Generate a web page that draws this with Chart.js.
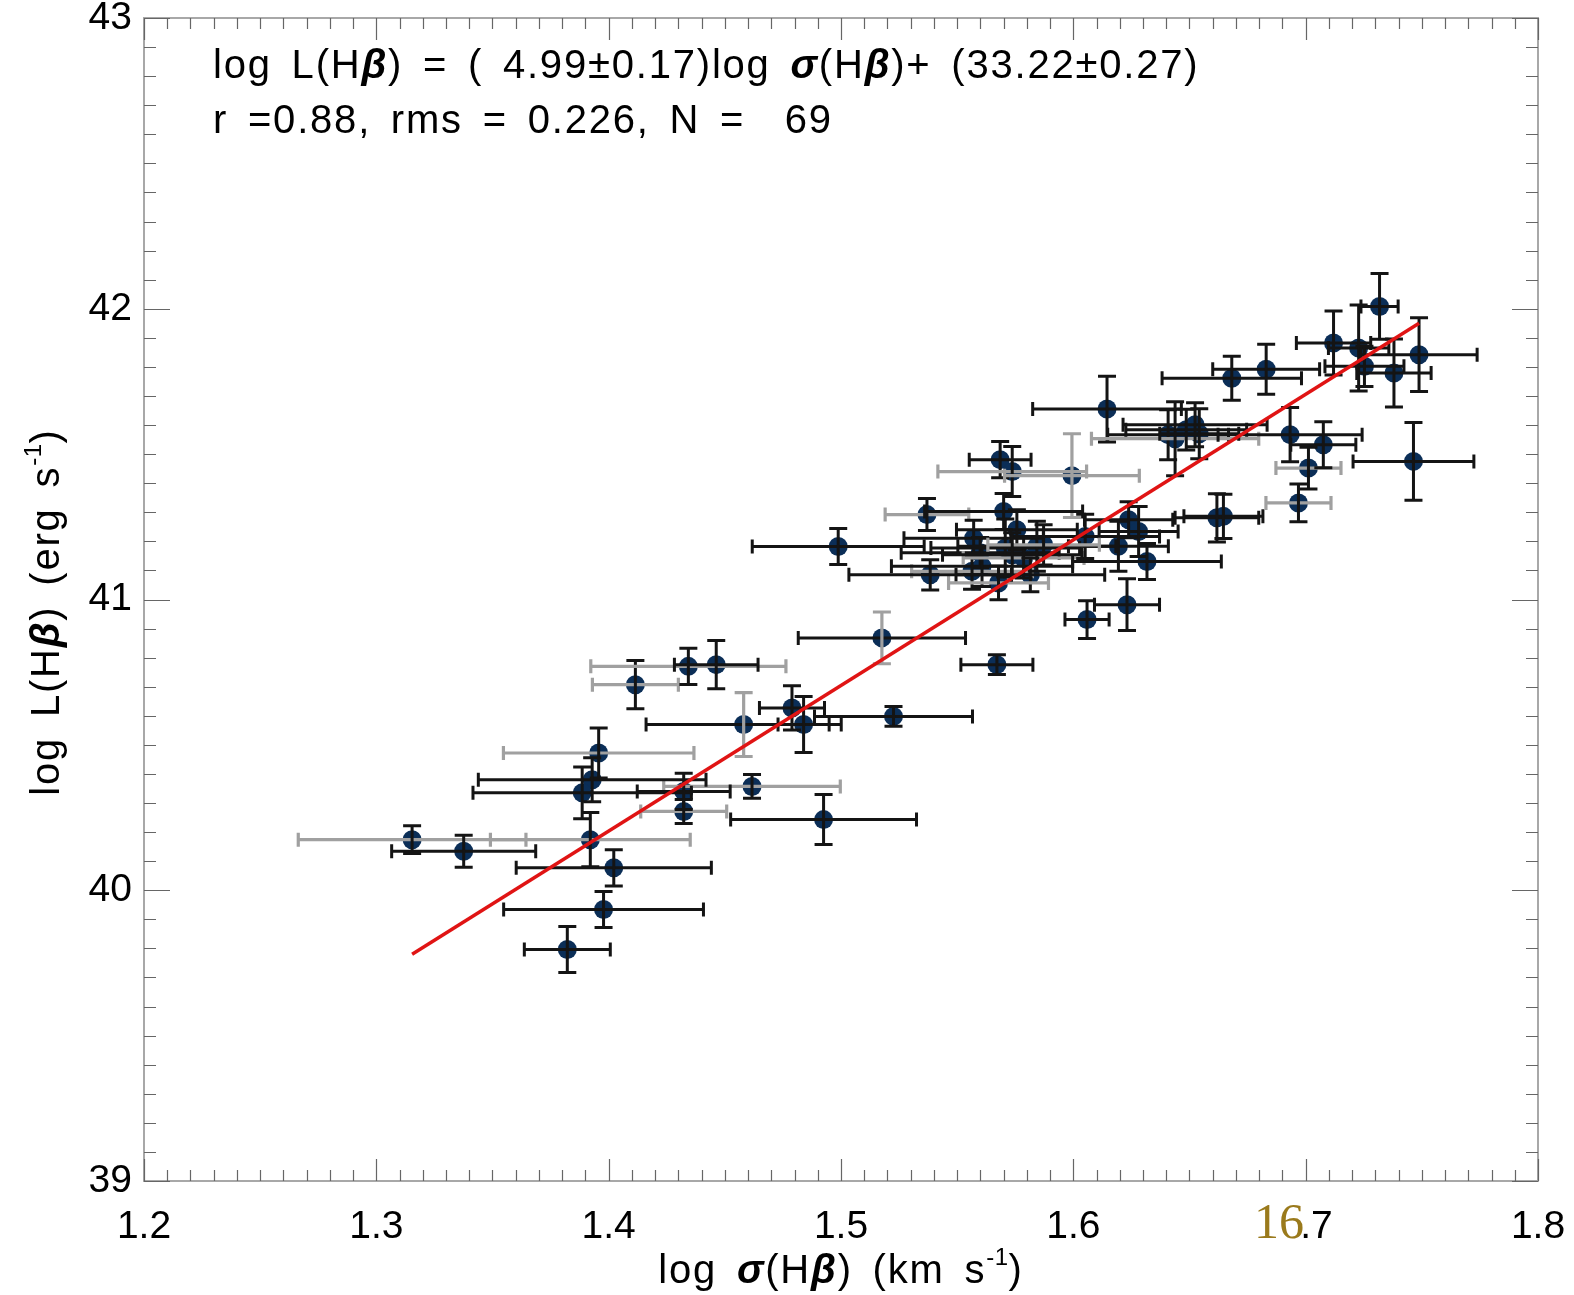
<!DOCTYPE html>
<html><head><meta charset="utf-8">
<script src="https://cdn.jsdelivr.net/npm/chart.js@4.4.0/dist/chart.umd.min.js"></script>
<style>html,body{margin:0;padding:0;background:#fff;overflow:hidden}#wrap{position:relative;width:1574px;height:1295px}</style>
</head><body><div id="wrap"><canvas id="c" width="1574" height="1295"></canvas></div>
<script>
// ---- data ----
const xVals = [1.3154,1.3376,1.4115,1.4343,1.4463,1.4581,1.4789,1.4839,1.5226,1.5176,1.4617,1.4925,1.4323,1.4323,1.3957,1.3929,1.3886,1.3921,1.4022,1.3978,1.3822,1.4988,
 1.5685,1.5737,1.5994,1.5370,1.5700,1.5757,1.5571,1.5599,1.5564,1.5607,1.5707,1.5786,1.5843,1.5815,1.5678,1.5384,1.6051,1.6194,1.6238,1.6281,1.6317,1.6231,1.6059,1.5671,1.5872,1.6618,1.6646,
 1.6145,1.6408,1.6438,1.6524,1.6542,1.6933,1.7012,1.7076,1.6969,1.7464,1.7318,1.7120,1.7228,1.7253,1.7380,1.7488,1.6830,1.6682,1.5737,1.6486];
const yVals = [40.174,40.134,40.707,40.770,40.776,40.570,40.627,40.570,40.598,40.868,40.357,40.243,40.271,40.340,40.472,40.380,40.335,40.174,40.077,39.934,39.796,41.182,
 41.481,41.440,41.426,41.292,41.303,41.240,41.211,41.161,41.097,41.114,41.177,41.143,41.183,41.085,41.057,41.085,41.217,41.183,41.274,41.234,41.131,40.982,40.931,40.776,41.188,41.281,41.286,
 41.655,41.567,41.553,41.601,41.570,41.567,41.452,41.532,41.332,41.475,42.008,41.882,41.865,41.802,41.779,41.842,41.792,41.761,41.154,41.584];
const xErr = [0.049,0.031,0.0185,0.042,0.018,0.042,0.014,0.011,0.034,0.036,0.038,0.040,0.0185,0.020,0.041,0.049,0.047,0.043,0.042,0.043,0.0185,0.037,
 0.0133,0.032,0.029,0.018,0.034,0.026,0.030,0.034,0.026,0.039,0.032,0.026,0.034,0.032,0.0215,0.035,0.032,0.0215,0.019,0.017,0.032,0.014,0.0095,0.0155,0.024,0.018,0.017,
 0.032,0.026,0.036,0.031,0.017,0.031,0.014,0.014,0.014,0.026,0.008,0.016,0.013,0.017,0.016,0.025,0.023,0.030,0.030,0.026];
const yErr = [0.048,0.055,0.083,0.062,0.083,0.11,0.076,0.096,0.034,0.089,0.041,0.086,0.041,0.062,0.086,0.076,0.089,0.093,0.062,0.062,0.079,0.062,
 0.062,0.086,0.144,0.055,0.062,0.069,0.062,0.052,0.062,0.069,0.10,0.069,0.086,0.058,0.058,0.052,0.076,0.086,0.062,0.086,0.062,0.089,0.065,0.034,0.069,0.083,0.076,
 0.113,0.086,0.127,0.076,0.086,0.093,0.072,0.079,0.065,0.134,0.113,0.110,0.148,0.069,0.117,0.127,0.086,0.076,0.076,0.07];
// 1 = grey error bar, 0 = black
const xErrGrey = [1,0,1,1,0,0,0,0,0,0,1,0,1,0,1,0,0,1,0,0,0,0,
 0,1,1,1,0,0,0,0,1,0,0,1,0,0,1,0,0,0,0,0,0,0,0,0,1,0,0,
 0,0,1,0,0,0,1,0,1,0,0,0,0,0,0,0,0,0,0,0];
const yErrGrey = [0,0,0,0,0,1,0,0,0,1,0,0,0,0,0,0,0,0,0,0,0,0,
 0,0,1,0,0,0,0,0,0,0,0,0,0,0,0,0,0,0,0,0,0,0,0,0,0,0,0,
 0,0,0,0,0,0,0,0,0,0,0,0,0,0,0,0,0,0,0,0];
const fitX = [1.3154, 1.7488];
const fitY = [39.78, 41.95];
const xTickVals = [1.2,1.3,1.4,1.5,1.6,1.7,1.8];
const xTickLabels = ['1.2','1.3','1.4','1.5','1.6','1.7','1.8'];
const yTickVals = [39,40,41,42,43];
const yTickLabels = ['39','40','41','42','43'];

const FONT = '"Liberation Sans", Arial, sans-serif';
const FS = 40;
const CH_SP = 1.8, SP_SP = 8.7;

function drawRich(ctx, segs, x, y, size, align){
  const fontOf = s => (s.style ? s.style + ' ' : '') + (s.sup ? Math.round(size*0.6) : size) + 'px ' + FONT;
  const adv = (s, ch) => ctx.measureText(ch).width + (s.sup ? 0.5 : (ch === ' ' ? SP_SP : CH_SP));
  let w = 0;
  for (const s of segs){ ctx.font = fontOf(s); for (const ch of s.t) w += adv(s, ch); }
  let cx = align === 'center' ? x - w/2 : x;
  ctx.textBaseline = 'alphabetic'; ctx.textAlign = 'left';
  for (const s of segs){
    ctx.font = fontOf(s);
    for (const ch of s.t){
      ctx.fillText(ch, cx, s.sup ? y - size*0.45 : y);
      cx += adv(s, ch);
    }
  }
}

const framePlugin = {
  id: 'frame',
  beforeDatasetsDraw(chart){
    const {ctx, chartArea:a, scales:{x, y}} = chart;
    ctx.save();
    ctx.strokeStyle = '#a8a8a8'; ctx.lineWidth = 2;
    ctx.strokeRect(a.left, a.top, a.right - a.left, a.bottom - a.top);
    ctx.strokeStyle = '#666'; ctx.lineWidth = 1.2;
    ctx.beginPath();
    for (let i = 0; i <= 60; i++){
      const px = Math.round(x.getPixelForValue(1.2 + i/100)) + 0.5;
      const L = i % 10 === 0 ? 22 : 11;
      ctx.moveTo(px, a.bottom); ctx.lineTo(px, a.bottom - L);
      ctx.moveTo(px, a.top); ctx.lineTo(px, a.top + L);
    }
    for (let i = 0; i <= 40; i++){
      const py = Math.round(y.getPixelForValue(39 + i/10)) + 0.5;
      const L = i % 10 === 0 ? 26 : 12;
      ctx.moveTo(a.left, py); ctx.lineTo(a.left + L, py);
      ctx.moveTo(a.right, py); ctx.lineTo(a.right - L, py);
    }
    ctx.stroke();
    ctx.restore();
  }
};

const errPlugin = {
  id: 'err',
  afterDatasetDraw(chart, args){
    if (args.index !== 1) return;
    const {ctx, scales:{x, y}} = chart;
    ctx.save();
    ctx.lineCap = 'butt';
    for (let i = 0; i < xVals.length; i++){
      const px = x.getPixelForValue(xVals[i]);
      const py = y.getPixelForValue(yVals[i]);
      const x0 = x.getPixelForValue(xVals[i] - xErr[i]);
      const x1 = x.getPixelForValue(xVals[i] + xErr[i]);
      const y0 = y.getPixelForValue(yVals[i] - yErr[i]);
      const y1 = y.getPixelForValue(yVals[i] + yErr[i]);
      ctx.strokeStyle = xErrGrey[i] ? '#a0a0a0' : '#141414';
      ctx.lineWidth = xErrGrey[i] ? 3.2 : 3;
      ctx.beginPath();
      ctx.moveTo(x0, py); ctx.lineTo(x1, py);
      ctx.moveTo(x0, py - 7); ctx.lineTo(x0, py + 7);
      ctx.moveTo(x1, py - 7); ctx.lineTo(x1, py + 7);
      ctx.stroke();
      ctx.strokeStyle = yErrGrey[i] ? '#a0a0a0' : '#141414';
      ctx.lineWidth = yErrGrey[i] ? 3.2 : 3;
      ctx.beginPath();
      ctx.moveTo(px, y0); ctx.lineTo(px, y1);
      ctx.moveTo(px - 9, y0); ctx.lineTo(px + 9, y0);
      ctx.moveTo(px - 9, y1); ctx.lineTo(px + 9, y1);
      ctx.stroke();
    }
    ctx.restore();
  }
};

const textPlugin = {
  id: 'texts',
  afterDraw(chart){
    const ctx = chart.ctx;
    ctx.save();
    ctx.fillStyle = '#000';
    const BI = 'bold italic';
    drawRich(ctx, [
      {t:'log L(H'},{t:'β',style:BI},{t:') = ( 4.99±0.17)log '},{t:'σ',style:BI},{t:'(H'},{t:'β',style:BI},{t:')+ (33.22±0.27)'}
    ], 213, 78, FS, 'left');
    drawRich(ctx, [{t:'r =0.88, rms = 0.226, N =  69'}], 213, 133, FS, 'left');
    // x title
    drawRich(ctx, [{t:'log '},{t:'σ',style:BI},{t:'(H'},{t:'β',style:BI},{t:') (km s'},{t:'-1',sup:true},{t:')'}],
      (chart.chartArea.left + chart.chartArea.right)/2, 1283, FS, 'center');
    // y title
    ctx.save();
    ctx.translate(59, 612);
    ctx.rotate(-Math.PI/2);
    drawRich(ctx, [{t:'log L(H'},{t:'β',style:BI},{t:') (erg s'},{t:'-1',sup:true},{t:')'}], 0, 0, FS, 'center');
    ctx.restore();
    // page number overlay
    ctx.fillStyle = '#fff';
    ctx.fillRect(1279, 1203, 21, 38);
    ctx.fillStyle = '#9a7a1c';
    ctx.font = '50px "Liberation Serif", "DejaVu Serif", serif';
    ctx.textAlign = 'left'; ctx.textBaseline = 'alphabetic';
    ctx.fillText('16', 1254, 1238);
    ctx.restore();
  }
};

new Chart(document.getElementById('c'), {
  type: 'scatter',
  data: {
    datasets: [
      { type:'line', data: fitX.map((v,i)=>({x:v, y:fitY[i]})), borderColor:'#e01414', borderWidth:3.5,
        pointRadius:0, fill:false, order:0, tension:0 },
      { type:'scatter', data: xVals.map((v,i)=>({x:v, y:yVals[i]})), pointRadius:9.5, pointHoverRadius:9.5,
        pointBackgroundColor:'#0b2e57', pointBorderWidth:0, order:1 }
    ]
  },
  options: {
    responsive:false, animation:false, devicePixelRatio:1,
    layout:{padding:{top:18, right:36, left:0, bottom:0}},
    plugins:{legend:{display:false}, tooltip:{enabled:false}},
    scales:{
      x:{type:'linear', min:1.2, max:1.8,
        afterBuildTicks:s=>{s.ticks = xTickVals.map(v=>({value:v}));},
        ticks:{font:{family:FONT,size:39}, color:'#000', padding:23, maxRotation:0, autoSkip:false,
          callback:(v,i)=>xTickLabels[i]},
        grid:{display:false, drawTicks:false}, border:{display:false},
        afterFit:s=>{s.height = 114; s.paddingLeft = 0; s.paddingRight = 0;}},
      y:{type:'linear', min:39, max:43,
        afterBuildTicks:s=>{s.ticks = yTickVals.map(v=>({value:v}));},
        ticks:{font:{family:FONT,size:39}, color:'#000', padding:12, autoSkip:false,
          callback:(v,i)=>yTickLabels[i]},
        grid:{display:false, drawTicks:false}, border:{display:false},
        afterFit:s=>{s.width = 144; s.paddingTop = 0; s.paddingBottom = 0;}}
    }
  },
  plugins:[framePlugin, errPlugin, textPlugin]
});
</script></body></html>
